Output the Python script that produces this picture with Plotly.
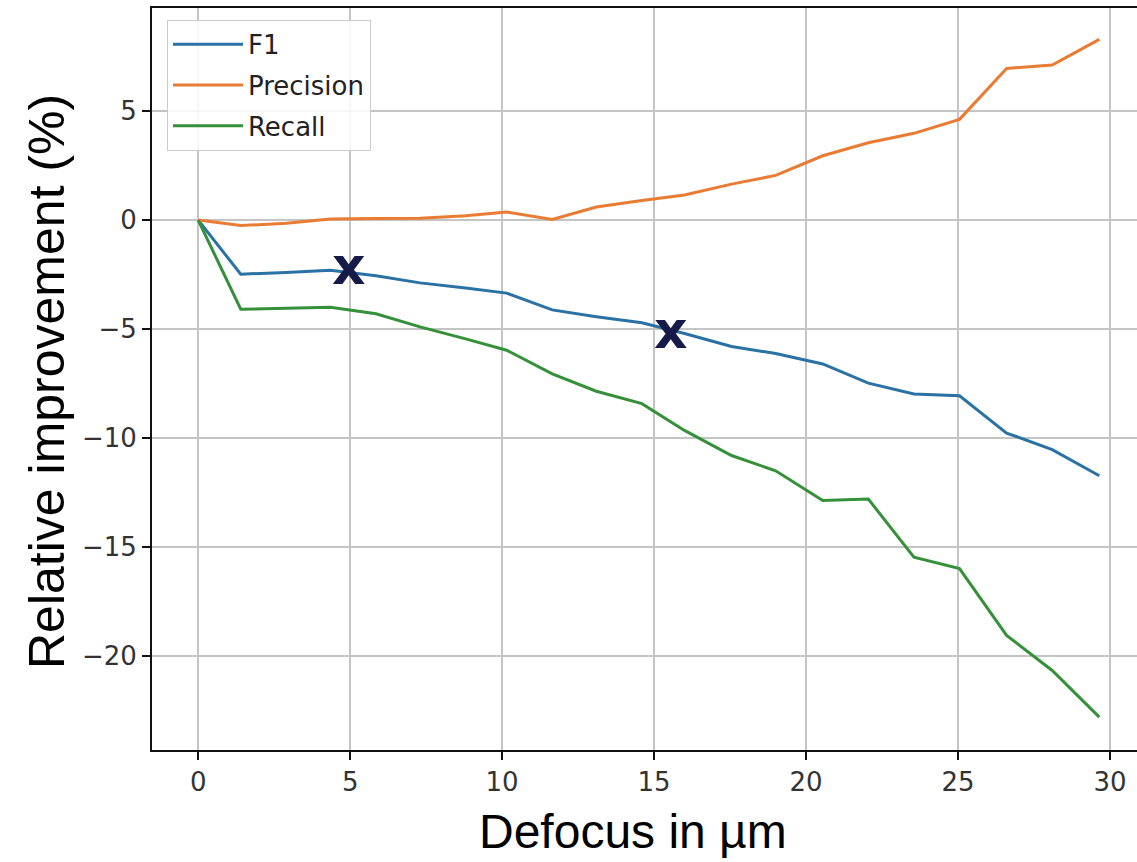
import plotly.graph_objects as go

# ---- data ----
defocus = [0, 1.4, 2.9, 4.35, 5.85, 7.3, 8.8, 10.15, 11.65, 13.1, 14.6,
           16.0, 17.55, 19.0, 20.55, 22.05, 23.55, 25.05, 26.6, 28.1, 29.65]
f1 = [0, -2.48, -2.4, -2.3, -2.55, -2.88, -3.12, -3.35, -4.12, -4.43, -4.71,
      -5.2, -5.8, -6.12, -6.6, -7.48, -7.98, -8.06, -9.77, -10.53, -11.73]
precision = [0, -0.25, -0.15, 0.05, 0.07, 0.08, 0.2, 0.37, 0.03, 0.6, 0.9,
             1.15, 1.65, 2.05, 2.95, 3.55, 3.98, 4.62, 6.96, 7.11, 8.29]
recall = [0, -4.09, -4.05, -4.0, -4.3, -4.9, -5.45, -5.97, -7.05, -7.85, -8.42,
          -9.65, -10.8, -11.5, -12.86, -12.8, -15.46, -15.99, -19.05, -20.66, -22.8]

series_names = ["F1", "Precision", "Recall"]
series_colors = ["#2a72a5", "#ea7b32", "#35903a"]

mark_x = [4.96, 15.56]
mark_y = [-2.21, -5.13]

x_ticks = [0, 5, 10, 15, 20, 25, 30]
y_ticks = [-20, -15, -10, -5, 0, 5]
y_tick_text = ["\u221220", "\u221215", "\u221210", "\u22125", "0", "5"]

fig = go.Figure()
for name, vals, col in zip(series_names, [f1, precision, recall], series_colors):
    fig.add_trace(go.Scatter(x=defocus, y=vals, mode="lines", name=name,
                             line=dict(color=col, width=3), legendgroup=name))

for mx, my in zip(mark_x, mark_y):
    fig.add_annotation(x=mx, y=my, xref="x", yref="y", text="<b>x</b>",
                       showarrow=False, yshift=2,
                       font=dict(family="DejaVu Sans", size=52, color="#161a48"))

axis_common = dict(showgrid=True, gridcolor="#c4c4c4", gridwidth=2,
                   showline=True, linecolor="#111", linewidth=2,
                   ticks="outside", ticklen=8, tickwidth=2, tickcolor="#111",
                   tickfont=dict(family="DejaVu Sans", size=26, color="#333"),
                   zeroline=False)

fig.update_layout(
    width=1137, height=862,
    margin=dict(l=152, r=0, t=8, b=112),
    paper_bgcolor="white", plot_bgcolor="white",
    xaxis=dict(range=[-1.52, 30.89], tickvals=x_ticks, mirror=True, **axis_common),
    yaxis=dict(range=[-24.31, 9.73], tickvals=y_ticks, ticktext=y_tick_text, **axis_common),
    legend=dict(x=0.0152, y=0.984, xanchor="left", yanchor="top",
                bgcolor="rgba(255,255,255,0.85)", bordercolor="#cccccc", borderwidth=1,
                font=dict(family="DejaVu Sans", size=26, color="#222"),
                tracegroupgap=4, itemwidth=70),
    showlegend=True,
)

# titles placed in pixel terms via paper coordinates
pl, pr, pt, pb = 152, 1137, 8, 750
fig.add_annotation(x=(633 - pl) / (pr - pl), y=(pb - 831) / (pb - pt), xref="paper", yref="paper",
                   text="Defocus in \u00b5m", showarrow=False,
                   xanchor="center", yanchor="middle",
                   font=dict(family="Liberation Sans", size=48, color="#000"))
fig.add_annotation(x=(47 - pl) / (pr - pl), y=(pb - 382) / (pb - pt), xref="paper", yref="paper",
                   text="Relative improvement (%)", textangle=-90, showarrow=False,
                   xanchor="center", yanchor="middle",
                   font=dict(family="Liberation Sans", size=50, color="#000"))

fig.write_html("out.html")
